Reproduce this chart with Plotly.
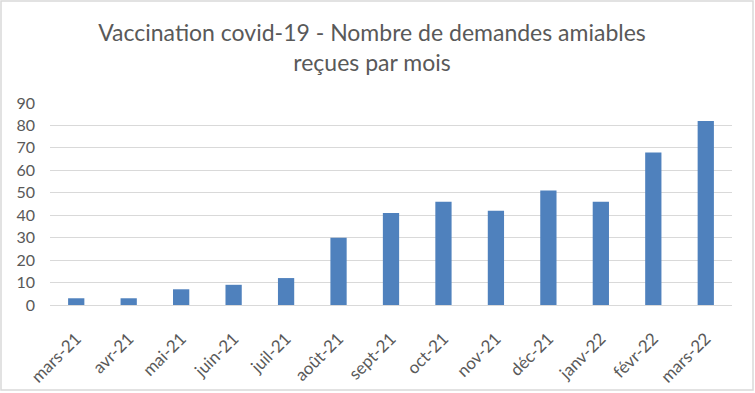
import plotly.graph_objects as go

months = ["mars-21", "avr-21", "mai-21", "juin-21", "juil-21", "août-21", "sept-21",
          "oct-21", "nov-21", "déc-21", "janv-22", "févr-22", "mars-22"]
demandes = [3, 3, 7, 9, 12, 30, 41, 46, 42, 51, 46, 68, 82]
y_ticks = [0, 10, 20, 30, 40, 50, 60, 70, 80, 90]

W, H = 755, 393
ml, mr, mt, mb = 50, 23, 103, 88
pw, ph = W - ml - mr, H - mt - mb

fig = go.Figure(go.Bar(x=months, y=demandes, marker_color="#4f81bd", marker_line_width=0,
                       hoverinfo="skip"))

fig.update_layout(
    width=W, height=H,
    margin=dict(l=ml, r=mr, t=mt, b=mb, autoexpand=False),
    paper_bgcolor="white", plot_bgcolor="white",
    bargap=0.69,
    showlegend=False,
    font=dict(family="Lato, Open Sans, sans-serif", color="#595959"),
    title=dict(
        text="Vaccination covid-19 - Nombre de demandes amiables<br>reçues par mois",
        x=372 / W, xref="container", xanchor="center",
        y=1 - 41 / H, yref="container", yanchor="top",
        font=dict(size=23, color="#595959"),
    ),
)
fig.update_xaxes(
    tickangle=-45, tickfont=dict(size=17, color="#595959"),
    showgrid=False, showline=True, linecolor="#d9d9d9", linewidth=1,
    ticks="", range=[-0.5, 12.5], automargin=False, ticklabelstandoff=16,
)
fig.update_yaxes(
    range=[0, 90], tickvals=y_ticks, tickfont=dict(size=16, color="#595959"),
    showgrid=True, gridcolor="#d9d9d9", gridwidth=1, zeroline=False,
    showline=False, ticks="", ticklabelstandoff=14, automargin=False,
)

# outer chart border
fig.add_shape(
    type="rect", xref="paper", yref="paper",
    x0=(1 - ml) / pw, x1=(753 - ml) / pw,
    y0=(H - mb - 390) / ph, y1=(H - mb - 1) / ph,
    line=dict(color="#d9d9d9", width=1.5), fillcolor="rgba(0,0,0,0)", layer="below",
)

fig.write_html("out.html", config={"displayModeBar": False},
               post_script="document.body.style.margin='0';")
